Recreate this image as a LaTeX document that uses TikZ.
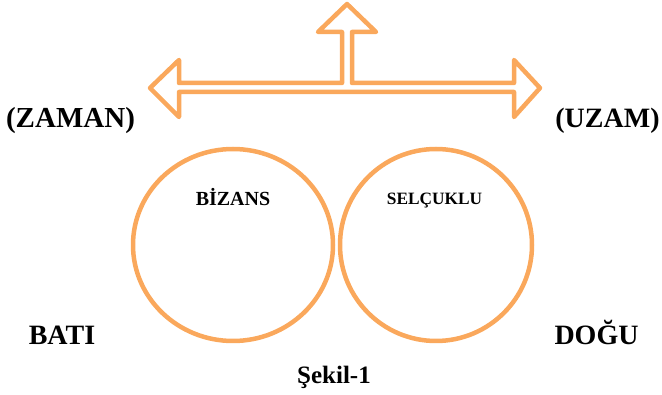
\documentclass[tikz,border=0pt]{standalone}
\usepackage{fontspec}
\setmainfont{Liberation Serif}
\usepackage{tikz}
\usetikzlibrary{shapes.geometric, positioning}
\definecolor{ringorange}{RGB}{250,168,92}

\begin{document}
\begin{tikzpicture}[
    x=1pt, y=-1pt,
    region/.style={ellipse, draw=ringorange, line width=4.5pt, inner sep=0pt},
    axis/.style={draw=ringorange, line width=4.5pt, line join=round},
    sidelbl/.style={anchor=base, font=\fontsize{28}{30}\selectfont\bfseries},
    regionlbl/.style={anchor=base, font=\fontsize{20}{22}\selectfont\bfseries}
]
\useasboundingbox (0,0) rectangle (662,395);

% Double headed arrow with upward branch
\draw[axis] (150,88) -- (179,60) -- (179,83) -- (342,83) -- (342,32) -- (318,32)
    -- (347,4) -- (376,32) -- (352,32) -- (352,83) -- (514,83) -- (514,60)
    -- (540,88) -- (514,117) -- (514,92) -- (179,92) -- (179,117) -- cycle;

% Regions
\node[region, minimum width=200pt, minimum height=192pt] (bizans) at (233,245) {};
\node[region, minimum width=192pt, minimum height=192pt] (selcuk) at (436,245) {};
\node[regionlbl] (bizanslbl) at (233,206) {BİZANS};
\node[regionlbl, font=\fontsize{17.3}{19}\selectfont\bfseries] (selcuklbl) at (434.5,205) {SELÇUKLU};

% Side labels
\node[sidelbl, font=\fontsize{29}{31}\selectfont\bfseries] (zaman) at (70.5,128) {(ZAMAN)};
\node[sidelbl] (uzam) at (607.5,128) {(UZAM)};
\node[sidelbl] (bati) at (62,345) {BATI};
\node[sidelbl] (dogu) at (596.5,345) {DOĞU};
\node[sidelbl, font=\fontsize{25}{27}\selectfont\bfseries] (sekil) at (334,384) {Şekil-1};
\end{tikzpicture}
\end{document}
